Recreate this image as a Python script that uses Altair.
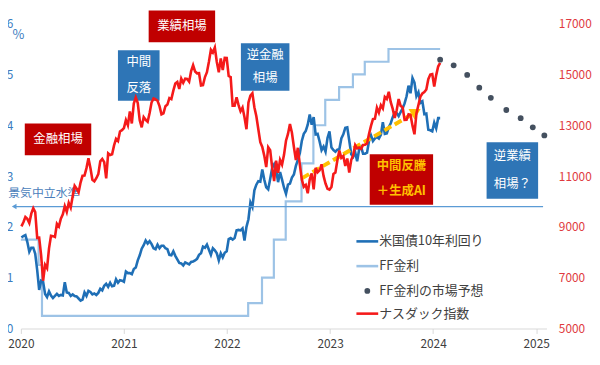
import altair as alt
import pandas as pd

FONT = "Noto Sans CJK JP"

# ---------------- data (weekly Friday closes) ----------------
nasdaq_2020 = [9021, 9179, 9389, 9315, 9151, 9520, 9731, 9577, 8567, 8576, 7875, 6880, 7502,
               7373, 8154, 8650, 8634, 8605, 9121, 9015, 9325, 9490, 9815, 9589, 9946, 9757,
               10208, 10617, 10503, 10363, 10745, 11011, 11019, 11312, 11696, 11313, 10854,
               10793, 10914, 11076, 11580, 11672, 11548, 10912, 11895, 11829, 11855, 12206,
               12464, 12378, 12756, 12805]
nasdaq_2021 = [12888, 13202, 12999, 13543, 13071, 13856, 14095, 13874, 13192, 12920, 13320,
               13215, 13139, 13480, 13900, 14052, 14016, 13962, 13752, 13430, 13471, 13749,
               13814, 14069, 14030, 14361, 14639, 14702, 14428, 14837, 14673, 14835, 14823,
               14715, 15130, 15363, 15116, 15044, 15048, 14567, 14580, 14897, 15090, 15498,
               15971, 15861, 16057, 15492, 15085, 15630, 15170, 15653, 15645]
nasdaq_2022 = [14936, 14894, 13769, 13771, 14098, 13791, 13548, 13694, 13313, 12844, 13894,
               14169, 14262, 13711, 13351, 12840, 12335, 12145, 11805, 11355, 12131, 12013,
               11340, 10798, 11608, 11128, 11635, 11452, 11834, 12391, 12657, 13047, 12705,
               12142, 11631, 12112, 11448, 10868, 10576, 10652, 10321, 10860, 11102, 10475,
               11324, 11146, 11226, 11462, 11005, 10705, 10498, 10466]
nasdaq_2023 = [10569, 11079, 11140, 11622, 12007, 11718, 11787, 11395, 11690, 11139, 11631,
               11824, 12222, 12088, 12123, 12072, 12227, 12235, 12285, 12658, 12976, 13241,
               13259, 13689, 13492, 13788, 13661, 14114, 14033, 14317, 13909, 13645, 13291,
               13590, 14031, 13762, 13708, 13212, 13219, 13431, 13407, 12984, 12643, 13478,
               13798, 14125, 14251, 14305, 14404, 14814, 14993, 15011]
nasdaq_2024 = [14524, 14973, 15311, 15455]

ust10_2020 = [1.79, 1.82, 1.84, 1.70, 1.51, 1.59, 1.59, 1.47, 1.15, 0.76, 0.94, 0.92, 0.68,
              0.62, 0.73, 0.65, 0.60, 0.64, 0.68, 0.64, 0.66, 0.65, 0.91, 0.71, 0.70, 0.64,
              0.67, 0.64, 0.63, 0.59, 0.55, 0.57, 0.71, 0.64, 0.74, 0.72, 0.67, 0.69, 0.66,
              0.70, 0.78, 0.75, 0.84, 0.88, 0.82, 0.90, 0.83, 0.84, 0.97, 0.90, 0.95, 0.94]
ust10_2021 = [0.92, 1.12, 1.09, 1.09, 1.07, 1.17, 1.20, 1.34, 1.44, 1.57, 1.64, 1.73, 1.67,
              1.72, 1.66, 1.58, 1.56, 1.65, 1.58, 1.63, 1.63, 1.58, 1.56, 1.45, 1.44, 1.52,
              1.43, 1.36, 1.29, 1.28, 1.24, 1.30, 1.28, 1.26, 1.31, 1.32, 1.34, 1.37, 1.45,
              1.48, 1.61, 1.59, 1.65, 1.55, 1.45, 1.58, 1.54, 1.48, 1.34, 1.48, 1.40, 1.49, 1.52]
ust10_2022 = [1.76, 1.78, 1.75, 1.78, 1.93, 1.94, 1.93, 1.97, 1.73, 2.00, 2.15, 2.48, 2.39,
              2.72, 2.83, 2.90, 2.89, 3.13, 2.93, 2.78, 2.74, 2.94, 3.16, 3.23, 3.13, 2.88,
              3.08, 2.93, 2.77, 2.65, 2.83, 2.85, 2.97, 3.03, 3.20, 3.32, 3.45, 3.69, 3.83,
              3.89, 4.01, 4.21, 4.01, 4.16, 3.82, 3.83, 3.68, 3.51, 3.58, 3.48, 3.75, 3.88]
ust10_2023 = [3.56, 3.51, 3.48, 3.52, 3.53, 3.74, 3.82, 3.95, 3.96, 3.70, 3.43, 3.38, 3.47,
              3.29, 3.52, 3.57, 3.44, 3.44, 3.46, 3.69, 3.80, 3.69, 3.74, 3.77, 3.74, 3.81,
              4.06, 3.83, 3.84, 3.96, 4.04, 4.16, 4.25, 4.24, 4.18, 4.26, 4.33, 4.43, 4.57,
              4.78, 4.63, 4.93, 4.84, 4.57, 4.65, 4.44, 4.47, 4.22, 4.23, 3.91, 3.90, 3.88]
ust10_2024 = [4.05, 3.94, 4.14, 4.14]

ff_dates = ["2020-01-01", "2020-03-04", "2020-03-16", "2022-03-17", "2022-05-05", "2022-06-16",
            "2022-07-28", "2022-09-22", "2022-11-03", "2022-12-15", "2023-02-02", "2023-03-23",
            "2023-05-04", "2023-07-27", "2024-01-26"]
ff_values = [1.75, 1.25, 0.25, 0.5, 1.0, 1.75, 2.5, 3.25, 4.0, 4.5, 4.75, 5.0, 5.25, 5.5, 5.5]

fc_dates = ["2024-01-26", "2024-03-14", "2024-05-01", "2024-06-13", "2024-07-24",
            "2024-09-17", "2024-11-07", "2024-12-20", "2025-01-30"]
fc_values = [5.29, 5.18, 4.99, 4.74, 4.54, 4.30, 4.14, 3.96, 3.80]

neutral_level = 2.4

# annotation boxes
box_text = [["金融相場"], ["中間", "反落"], ["業績相場"], ["逆金融", "相場"], ["中間反騰", "＋生成AI"], ["逆業績", "相場？"]]
box_x0 = [2020.038, 2020.942, 2021.240, 2022.135, 2023.385, 2024.519]
box_x1 = [2020.683, 2021.346, 2021.885, 2022.606, 2024.000, 2025.019]
box_y0 = [3.411, 4.483, 5.634, 4.678, 2.437, 2.554]
box_y1 = [4.035, 5.478, 6.257, 5.614, 3.431, 3.665]
box_fill = ["#c00000", "#2e75b6", "#c00000", "#2e75b6", "#c00000", "#2e75b6"]
box_ink = ["white", "white", "white", "white", "#ffc000", "white"]

legend_labels = ["米国債10年利回り", "FF金利", "FF金利の市場予想", "ナスダック指数"]

# ---------------- helpers ----------------
def dec_year(d):
    d = pd.Timestamp(d)
    ndays = 366 if d.is_leap_year else 365
    return d.year + (d.dayofyear - 1) / ndays

weekly = pd.date_range("2020-01-03", periods=213, freq="7D")
nasdaq = nasdaq_2020 + nasdaq_2021 + nasdaq_2022 + nasdaq_2023 + nasdaq_2024
ust10 = ust10_2020 + ust10_2021 + ust10_2022 + ust10_2023 + ust10_2024
xw = [dec_year(d) for d in weekly]

df_nasdaq = pd.DataFrame({"x": xw, "n": nasdaq})
df_ust = pd.DataFrame({"x": xw, "v": ust10})
df_ff = pd.DataFrame({"x": [dec_year(d) for d in ff_dates], "v": ff_values})
df_fc = pd.DataFrame({"x": [dec_year(d) for d in fc_dates], "v": fc_values})

xscale = alt.Scale(domain=[2020, 2025.1], nice=False, zero=False)
xaxis = alt.Axis(values=[2020, 2021, 2022, 2023, 2024, 2025], format="d", labelFlush=False,
                 labelOverlap=False, grid=False, domainColor="#d9d9d9", tickColor="#d9d9d9",
                 tickSize=5, labelPadding=5, labelFontSize=12, labelColor="#404040", title=None,
                 labelFont=FONT)
lscale = alt.Scale(domain=[0, 6], nice=False, zero=False)
laxis = alt.Axis(values=[0, 1, 2, 3, 4, 5, 6], grid=False, domain=False, ticks=False,
                 labelPadding=8, labelFontSize=12, labelColor="#3a7cc0", labelFont=FONT,
                 title="%", titleAngle=0, titleX=-3, titleY=11, titleColor="#3a7cc0",
                 titleFontSize=13, titleFontWeight="normal", titleAlign="center",
                 titleBaseline="middle", titleFont=FONT)

def X(field="x"):
    return alt.X(f"{field}:Q", scale=xscale, axis=xaxis)

def Y(field="v"):
    return alt.Y(f"{field}:Q", scale=lscale, axis=laxis)

ff_line = alt.Chart(df_ff).mark_line(interpolate="step-after", color="#9dc3e6", strokeWidth=2.2).encode(
    x=X(), y=Y())
ust_line = alt.Chart(df_ust).mark_line(color="#1f6fb6", strokeWidth=2.6).encode(x=X(), y=Y())
fc_pts = alt.Chart(df_fc).mark_point(filled=True, color="#44505f", size=34, opacity=1).encode(
    x=X(), y=alt.Y("v:Q", scale=lscale, axis=None))

# neutral level line with arrow
df_neutral = pd.DataFrame({"x": [2019.935], "x2": [2025.067], "v": [neutral_level]})
neutral_rule = alt.Chart(df_neutral).mark_rule(color="#5b9bd5", strokeWidth=1.3).encode(
    x=X(), x2="x2:Q", y=Y())
neutral_head = alt.Chart(df_neutral).mark_point(shape="triangle-left", filled=True, color="#5b9bd5",
                                                size=30, opacity=1).encode(x=X(), y=Y())
df_ntext = pd.DataFrame({"x": [2019.877], "v": [2.66], "t": ["景気中立水準"]})
neutral_text = alt.Chart(df_ntext).mark_text(align="left", baseline="middle", fontSize=12,
                                             color="#4a7ebb", font=FONT).encode(x=X(), y=Y(), text="t:N")

# yellow dashed trend arrow
df_trend = pd.DataFrame({"x": [2022.73, 2023.80], "v": [2.96, 4.22]})
trend_line = alt.Chart(df_trend).mark_line(color="#ffc000", strokeWidth=4, strokeDash=[8, 4]).encode(
    x=X(), y=Y())
df_tip = pd.DataFrame({"x": [2023.82], "v": [4.25]})
trend_tip = alt.Chart(df_tip).mark_point(shape="triangle", angle=60, filled=True, color="#ffc000",
                                         size=150, opacity=1).encode(x=X(), y=Y())

# annotation boxes
df_box = pd.DataFrame({"x": box_x0, "x2": box_x1, "v": box_y0, "v2": box_y1, "fill": box_fill})
boxes = alt.Chart(df_box).mark_rect().encode(
    x=X(), x2="x2:Q", y=Y(), y2="v2:Q", color=alt.Color("fill:N", scale=None))
rows = []
for lines, a, b, lo, hi, ink in zip(box_text, box_x0, box_x1, box_y0, box_y1, box_ink):
    n = len(lines)
    for i, t in enumerate(lines):
        frac = (i + 0.5) / n
        rows.append({"x": (a + b) / 2, "v": hi - frac * (hi - lo) + 0.01, "t": t, "ink": ink})
df_btext = pd.DataFrame(rows)
btext_white = alt.Chart(df_btext[df_btext.ink == "white"]).mark_text(
    fontSize=12.5, color="white", font=FONT, baseline="middle").encode(x=X(), y=Y(), text="t:N")
btext_yellow = alt.Chart(df_btext[df_btext.ink != "white"]).mark_text(
    fontSize=12.5, color="#ffc000", font=FONT, fontWeight="bold", baseline="middle").encode(
    x=X(), y=Y(), text="t:N")

left = alt.layer(ff_line, ust_line, neutral_rule, neutral_head, neutral_text, trend_line, trend_tip,
                 boxes, btext_white, btext_yellow)

# Nasdaq on right axis
rscale = alt.Scale(domain=[5000, 17000], nice=False, zero=False)
raxis = alt.Axis(orient="right", values=list(range(5000, 17001, 2000)), format="d", grid=False,
                 domain=False, ticks=False, labelPadding=12, labelFontSize=12, labelColor="#e03a3e",
                 title=None, labelFont=FONT)
nasdaq_line = alt.Chart(df_nasdaq).mark_line(color="#f51a1a", strokeWidth=2.6).encode(
    x=X(), y=alt.Y("n:Q", scale=rscale, axis=raxis))

# legend (drawn manually)
leg_y = [220, 245, 270, 293]
leg_layers = []
leg_colors = ["#1f6fb6", "#9dc3e6", None, "#f51a1a"]
for lab, yy, col in zip(legend_labels, leg_y, leg_colors):
    d = pd.DataFrame({"t": [lab]})
    if col is not None:
        leg_layers.append(alt.Chart(d).mark_rule(color=col, strokeWidth=2.6).encode(
            x=alt.value(339), x2=alt.value(361), y=alt.value(yy)))
    else:
        leg_layers.append(alt.Chart(d).mark_point(filled=True, color="#44505f", size=34, opacity=1).encode(
            x=alt.value(350), y=alt.value(yy)))
    leg_layers.append(alt.Chart(d).mark_text(align="left", baseline="middle", fontSize=13,
                                             color="#404040", font=FONT).encode(
        x=alt.value(362), y=alt.value(yy), text="t:N"))

chart = alt.layer(left, nasdaq_line, fc_pts, *leg_layers).resolve_scale(
    y="independent").properties(
    width=531, height=308,
    padding={"left": 13, "top": 14, "right": 46, "bottom": 25},
    autosize=alt.AutoSizeParams(type="none"),
    background="white",
).configure_view(stroke=None)

chart.save("out.html", embed_options={"renderer": "svg", "actions": False})
